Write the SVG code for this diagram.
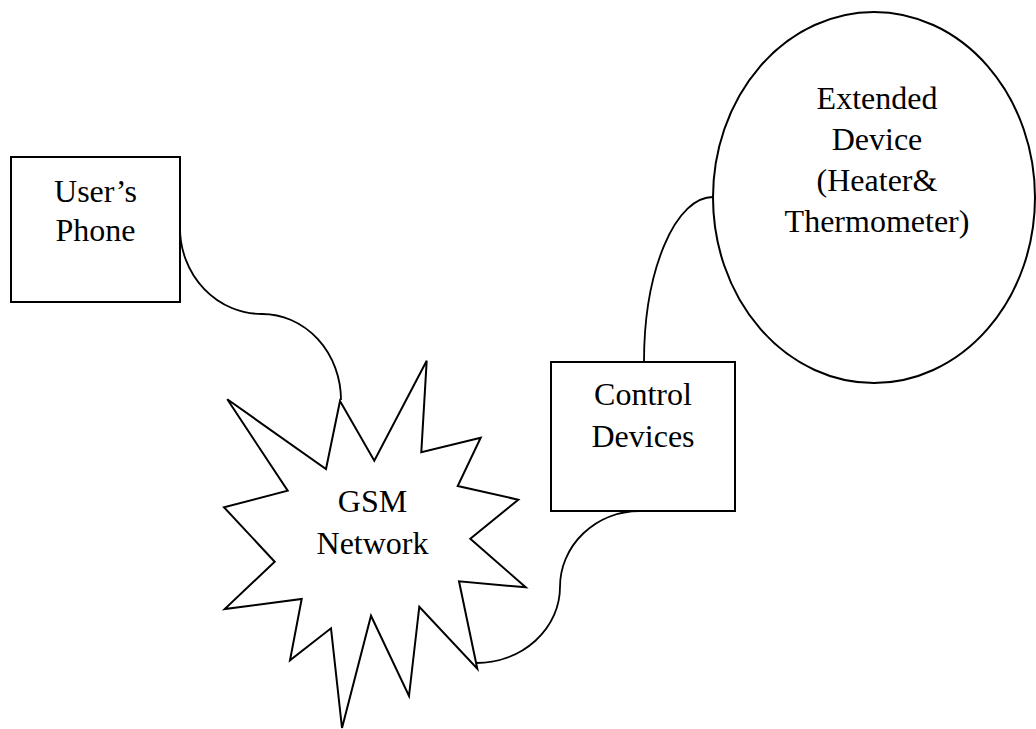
<svg xmlns="http://www.w3.org/2000/svg" width="1036" height="729" viewBox="0 0 1036 729">
<style>
.shape{fill:#fff;stroke:#000;stroke-width:2}
.conn{fill:none;stroke:#000;stroke-width:1.8}
.lbl{font-family:"Liberation Serif","Times New Roman",serif;font-size:32px;fill:#000;text-anchor:middle}
</style>
<rect width="1036" height="729" fill="#fff"/>
<g id="connectors">
<path class="conn" d="M180,228 A82,86 0 0 0 262,314 A79,86 0 0 1 341,400"/>
<path class="conn" d="M640,511 A80,76 0 0 0 560,587 A84,76 0 0 1 476,663"/>
<path class="conn" d="M644,362 A69,165 0 0 1 713,197"/>
</g>
<g id="users-phone">
<rect class="shape" x="11" y="157" width="169" height="145"/>
<text class="lbl" x="95.5" y="201.5">User’s</text>
<text class="lbl" x="95.5" y="240.5">Phone</text>
</g>
<g id="gsm-network">
<polygon class="shape" points="227.3,399.3 326,469 340,401 374.3,460.7 426.7,360.7 421.3,452.3 480.7,437.7 457.7,486 518.3,499.7 470.3,538.7 525.7,587.3 459,581.3 477.3,668.7 419.3,606.7 409,696 371,615.7 342,728 331,628.3 290,660.3 301.7,599 224.7,609 274.7,561.7 224,507.3 287.7,490.7"/>
<text class="lbl" x="372.5" y="511.5">GSM</text>
<text class="lbl" x="372.5" y="553.5">Network</text>
</g>
<g id="control-devices">
<rect class="shape" x="551" y="362" width="184" height="149"/>
<text class="lbl" x="643" y="405">Control</text>
<text class="lbl" x="643" y="447">Devices</text>
</g>
<g id="extended-device">
<ellipse class="shape" cx="874" cy="197.5" rx="161" ry="185.5"/>
<text class="lbl" x="877" y="109">Extended</text>
<text class="lbl" x="877" y="150">Device</text>
<text class="lbl" x="877" y="191">(Heater&amp;</text>
<text class="lbl" x="877" y="232">Thermometer)</text>
</g>
</svg>
